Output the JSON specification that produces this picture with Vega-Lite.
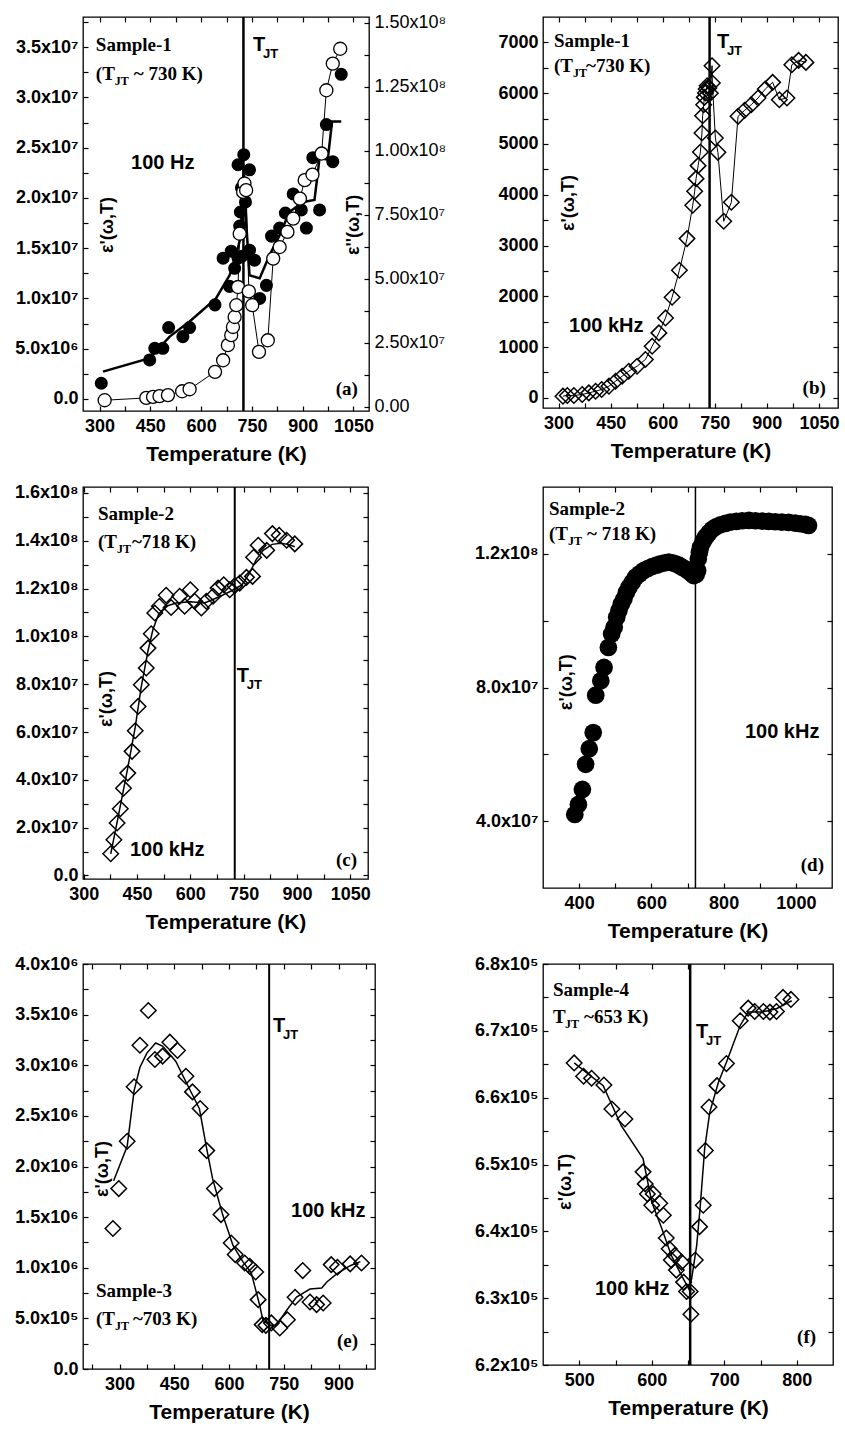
{
"$schema":"https://vega.github.io/schema/vega-lite/v6.json",
"background":"white",
"padding":{"left":13,"top":12,"right":0,"bottom":0},
"config":{
 "view":{"stroke":"black","strokeWidth":1.3},
 "axis":{"domain":false,"grid":false,"labelFont":"Liberation Sans","labelFontWeight":"bold","labelFontSize":18,"labelColor":"black","tickColor":"black","tickSize":-5,"tickWidth":1.2,"labelPadding":10,"labelFlush":false,"labelOverlap":false,"titleFont":"Liberation Sans","titleFontWeight":"bold","titleFontSize":21,"titleColor":"black","titlePadding":8},
 "axisX":{"labelPadding":11}
},
"columns":2,
"spacing":{"row":76,"column":168},
"bounds":"flush",
"align":"each",
"datasets":{
 "a_fill":[{"T":305,"v":1560000},{"T":448,"v":3880000},{"T":463,"v":5040000},{"T":487,"v":5040000},{"T":504,"v":7100000},{"T":546,"v":6200000},{"T":566,"v":7100000},{"T":641,"v":9360000},{"T":665,"v":14000000},{"T":684,"v":11200000},{"T":689,"v":14700000},{"T":699,"v":13000000},{"T":709,"v":14000000},{"T":714,"v":17200000},{"T":709,"v":23300000},{"T":726,"v":24300000},{"T":716,"v":18600000},{"T":719,"v":21000000},{"T":721,"v":14200000},{"T":731,"v":19600000},{"T":743,"v":22800000},{"T":743,"v":14800000},{"T":758,"v":13800000},{"T":773,"v":10000000},{"T":793,"v":11300000},{"T":808,"v":16200000},{"T":832,"v":17000000},{"T":849,"v":18500000},{"T":872,"v":20400000},{"T":896,"v":18800000},{"T":911,"v":17000000},{"T":930,"v":24000000},{"T":950,"v":18800000},{"T":970,"v":27300000},{"T":989,"v":23600000},{"T":1014,"v":32300000}],
 "a_line":[{"T":310,"v":2720000},{"T":448,"v":4050000},{"T":507,"v":6200000},{"T":566,"v":7700000},{"T":644,"v":10000000},{"T":684,"v":12300000},{"T":703,"v":14200000},{"T":718,"v":16300000},{"T":726,"v":23000000},{"T":733,"v":17700000},{"T":743,"v":12300000},{"T":773,"v":12000000},{"T":802,"v":14300000},{"T":832,"v":16300000},{"T":861,"v":18600000},{"T":901,"v":19600000},{"T":935,"v":19800000},{"T":950,"v":24000000},{"T":974,"v":23800000},{"T":987,"v":27600000},{"T":1014,"v":27600000}],
 "a_open":[{"T":315,"v":2600000},{"T":438,"v":3500000},{"T":458,"v":3900000},{"T":477,"v":4200000},{"T":502,"v":4600000},{"T":544,"v":6100000},{"T":566,"v":6900000},{"T":641,"v":13700000},{"T":665,"v":18200000},{"T":679,"v":24100000},{"T":689,"v":28000000},{"T":694,"v":31200000},{"T":699,"v":35100000},{"T":704,"v":39700000},{"T":709,"v":46800000},{"T":714,"v":67600000},{"T":724,"v":83900000},{"T":728,"v":87200000},{"T":733,"v":84600000},{"T":741,"v":45100000},{"T":751,"v":39700000},{"T":771,"v":21500000},{"T":797,"v":26000000},{"T":813,"v":57900000},{"T":832,"v":62400000},{"T":855,"v":68300000},{"T":872,"v":73500000},{"T":892,"v":81300000},{"T":906,"v":88500000},{"T":929,"v":90700000},{"T":956,"v":98900000},{"T":970,"v":123600000},{"T":989,"v":134000000},{"T":1011,"v":139800000}],
 "b_pts":[{"T":312.5,"v":33},{"T":325,"v":46},{"T":344,"v":46},{"T":368,"v":66},{"T":387,"v":98},{"T":406.5,"v":131},{"T":424,"v":164},{"T":445,"v":230},{"T":464,"v":328},{"T":483,"v":426},{"T":502,"v":525},{"T":526,"v":623},{"T":550,"v":754},{"T":569.5,"v":1017},{"T":589,"v":1279},{"T":608,"v":1574},{"T":627,"v":1981},{"T":648,"v":2513},{"T":670,"v":3136},{"T":686.5,"v":3792},{"T":692,"v":4067},{"T":696,"v":4317},{"T":702,"v":4573},{"T":708.5,"v":4842},{"T":713,"v":5215},{"T":715,"v":5557},{"T":718,"v":5773},{"T":720,"v":5917},{"T":723,"v":6003},{"T":725,"v":6082},{"T":728,"v":6147},{"T":733,"v":6100},{"T":737,"v":6000},{"T":742,"v":6541},{"T":743,"v":6200},{"T":751.7,"v":5117},{"T":759,"v":4835},{"T":775.7,"v":3477},{"T":797.7,"v":3851},{"T":817,"v":5544},{"T":836,"v":5662},{"T":855,"v":5773},{"T":874.5,"v":5904},{"T":895.6,"v":6082},{"T":916.7,"v":6213},{"T":935.9,"v":5871},{"T":958,"v":5904},{"T":972,"v":6560},{"T":991.5,"v":6646},{"T":1012.6,"v":6606}],
 "c_pts":[{"T":376,"v":9070000},{"T":385,"v":14900000},{"T":394,"v":21900000},{"T":403,"v":27900000},{"T":412,"v":36500000},{"T":424,"v":42800000},{"T":436,"v":51900000},{"T":445,"v":60500000},{"T":453,"v":70700000},{"T":462,"v":79800000},{"T":476,"v":86800000},{"T":481,"v":95100000},{"T":490,"v":101100000},{"T":500,"v":109800000},{"T":513,"v":112600000},{"T":532,"v":117200000},{"T":546,"v":112100000},{"T":570,"v":116800000},{"T":584,"v":112600000},{"T":600,"v":119500000},{"T":612,"v":114700000},{"T":631,"v":111900000},{"T":645,"v":114700000},{"T":664,"v":116800000},{"T":678,"v":120200000},{"T":694,"v":121600000},{"T":711,"v":119500000},{"T":725,"v":121200000},{"T":739,"v":122300000},{"T":758,"v":124700000},{"T":775,"v":125100000},{"T":778,"v":133100000},{"T":791,"v":138100000},{"T":815,"v":136000000},{"T":831,"v":143000000},{"T":850,"v":142300000},{"T":871,"v":140200000},{"T":894,"v":138700000}],
 "c_line":[{"T":376,"v":9000000},{"T":395,"v":23000000},{"T":424,"v":45000000},{"T":445,"v":62000000},{"T":462,"v":79000000},{"T":481,"v":94000000},{"T":495,"v":103000000},{"T":510,"v":109000000},{"T":530,"v":112500000},{"T":560,"v":114000000},{"T":600,"v":114500000},{"T":640,"v":114000000},{"T":680,"v":116500000},{"T":715,"v":119000000},{"T":745,"v":121500000},{"T":765,"v":126000000},{"T":785,"v":132000000},{"T":805,"v":136000000},{"T":830,"v":138500000},{"T":855,"v":139000000},{"T":875,"v":138500000},{"T":894,"v":137500000}],
 "d_pts":[{"T":388,"v":42000000},{"T":398,"v":45000000},{"T":409,"v":49500000},{"T":418,"v":57000000},{"T":428,"v":61700000},{"T":439,"v":66500000},{"T":446,"v":77700000},{"T":460,"v":82000000},{"T":469,"v":86000000},{"T":481,"v":92000000},{"T":490,"v":96000000},{"T":497,"v":98000000},{"T":504,"v":101000000},{"T":510,"v":103000000},{"T":517,"v":105000000},{"T":524,"v":106500000},{"T":531,"v":108500000},{"T":538,"v":110000000},{"T":547,"v":111500000},{"T":556,"v":113000000},{"T":567,"v":114000000},{"T":579,"v":115000000},{"T":590,"v":115600000},{"T":602,"v":116200000},{"T":614,"v":116600000},{"T":625,"v":117000000},{"T":637,"v":117300000},{"T":648,"v":117500000},{"T":658,"v":117300000},{"T":667,"v":117000000},{"T":676,"v":116600000},{"T":685,"v":116000000},{"T":695,"v":115400000},{"T":704,"v":114700000},{"T":711,"v":114100000},{"T":717,"v":113500000},{"T":724,"v":113800000},{"T":728,"v":115000000},{"T":730,"v":118500000},{"T":733,"v":120500000},{"T":736,"v":122000000},{"T":743,"v":123700000},{"T":750,"v":125000000},{"T":759,"v":126200000},{"T":768,"v":127300000},{"T":779,"v":128100000},{"T":791,"v":128700000},{"T":805,"v":129100000},{"T":819,"v":129500000},{"T":835,"v":129700000},{"T":851,"v":129900000},{"T":870,"v":130000000},{"T":888,"v":129900000},{"T":907,"v":129800000},{"T":925,"v":129700000},{"T":943,"v":129600000},{"T":961,"v":129500000},{"T":980,"v":129400000},{"T":998,"v":129200000},{"T":1012,"v":129000000},{"T":1026,"v":128800000},{"T":1035,"v":128500000}],
 "e_pts":[{"T":282,"v":1387000},{"T":298,"v":1782000},{"T":321,"v":2250000},{"T":340,"v":2787000},{"T":356,"v":3198000},{"T":379,"v":3541000},{"T":397,"v":3057000},{"T":418,"v":3090000},{"T":438,"v":3228000},{"T":459,"v":3146000},{"T":482,"v":2892000},{"T":500,"v":2737000},{"T":521,"v":2572000},{"T":539,"v":2157000},{"T":560,"v":1782000},{"T":578,"v":1525000},{"T":606,"v":1245000},{"T":617,"v":1130000},{"T":643,"v":1047000},{"T":657,"v":1014000},{"T":673,"v":958000},{"T":680,"v":685000},{"T":691,"v":438000},{"T":701,"v":431000},{"T":716,"v":455000},{"T":739,"v":405000},{"T":760,"v":487000},{"T":781,"v":708000},{"T":802,"v":972000},{"T":822,"v":662000},{"T":840,"v":636000},{"T":858,"v":652000},{"T":880,"v":1031000},{"T":897,"v":1005000},{"T":932,"v":1038000},{"T":963,"v":1047000}],
 "e_line":[{"T":284,"v":1860000},{"T":321,"v":2200000},{"T":340,"v":2750000},{"T":356,"v":2980000},{"T":375,"v":3120000},{"T":399,"v":3220000},{"T":418,"v":3190000},{"T":454,"v":3040000},{"T":487,"v":2800000},{"T":519,"v":2570000},{"T":537,"v":2210000},{"T":555,"v":1880000},{"T":583,"v":1520000},{"T":611,"v":1220000},{"T":638,"v":1060000},{"T":661,"v":950000},{"T":684,"v":630000},{"T":693,"v":480000},{"T":712,"v":430000},{"T":730,"v":430000},{"T":758,"v":580000},{"T":785,"v":710000},{"T":822,"v":790000},{"T":854,"v":800000},{"T":868,"v":860000},{"T":895,"v":940000},{"T":932,"v":1020000},{"T":960,"v":1060000}],
 "f_pts":[{"T":493,"v":665200},{"T":506,"v":663200},{"T":517,"v":662900},{"T":534,"v":661900},{"T":545,"v":658300},{"T":563,"v":656800},{"T":588,"v":648900},{"T":591,"v":647100},{"T":594,"v":645600},{"T":600,"v":643900},{"T":602,"v":645600},{"T":611,"v":644200},{"T":616,"v":642400},{"T":620,"v":639000},{"T":624,"v":637400},{"T":627,"v":635700},{"T":632,"v":636400},{"T":634,"v":634200},{"T":641,"v":635400},{"T":644,"v":632400},{"T":648,"v":631000},{"T":653,"v":631000},{"T":654,"v":627600},{"T":660,"v":635700},{"T":666,"v":640700},{"T":671,"v":643900},{"T":674,"v":652100},{"T":679,"v":658600},{"T":690,"v":661800},{"T":703,"v":665100},{"T":722,"v":671500},{"T":733,"v":673400},{"T":742,"v":672900},{"T":754,"v":672900},{"T":763,"v":672800},{"T":772,"v":672900},{"T":781,"v":675000},{"T":792,"v":674700}],
 "f_line":[{"T":493,"v":665200},{"T":533,"v":661800},{"T":558,"v":655800},{"T":588,"v":650900},{"T":600,"v":644400},{"T":614,"v":640400},{"T":627,"v":636400},{"T":641,"v":633400},{"T":651,"v":631400},{"T":655,"v":632900},{"T":662,"v":637900},{"T":667,"v":643900},{"T":673,"v":652400},{"T":680,"v":657800},{"T":692,"v":662300},{"T":703,"v":665300},{"T":722,"v":670800},{"T":733,"v":672800},{"T":752,"v":672800},{"T":772,"v":673300},{"T":793,"v":674500}]
},
"concat":[
{
 "width":286,"height":394,
 "resolve":{"scale":{"y":"independent"}},
 "layer":[
   {"data":{"values":[{"T":725}]},"mark":{"type":"rule","strokeWidth":2.5,"color":"black"},
    "encoding":{"x":{"field":"T","type":"quantitative","scale":{"domain":[251,1096],"nice":false,"zero":false},"axis":{"orient":"bottom","title":"Temperature (K)","values":[300,375,450,525,600,675,750,825,900,975,1050],"labelExpr":"datum.value % 150 == 0 ? format(datum.value,'d') : ''"}}}},
   {"data":{"name":"a_line"},"mark":{"type":"line","strokeWidth":2.5,"color":"black"},
    "encoding":{"x":{"field":"T","type":"quantitative","scale":{"domain":[251,1096],"nice":false,"zero":false},"axis":{"orient":"top","labels":false,"title":null,"values":[300,375,450,525,600,675,750,825,900,975,1050]}},
     "y":{"field":"v","type":"quantitative","scale":{"domain":[-1200000,38000000],"nice":false,"zero":false},"axis":{"orient":"left","title":null,"values":[0,2500000,5000000,7500000,10000000,12500000,15000000,17500000,20000000,22500000,25000000,27500000,30000000,32500000,35000000,37500000],"labelExpr":"datum.value % 5000000 != 0 ? '' : datum.value == 0 ? '0.0' : datum.value < 10000000 ? format(datum.value/1000000,'.1f') + 'x10⁶' : format(datum.value/10000000,'.1f') + 'x10⁷'"}}}},
   {"data":{"name":"a_fill"},"mark":{"type":"point","shape":"circle","filled":true,"color":"black","opacity":1,"size":170},
    "encoding":{"x":{"field":"T","type":"quantitative","scale":{"domain":[251,1096],"nice":false,"zero":false},"axis":null},
     "y":{"field":"v","type":"quantitative","scale":{"domain":[-1200000,38000000],"nice":false,"zero":false},"axis":null}}},
   {"data":{"name":"a_open"},"mark":{"type":"line","strokeWidth":1,"color":"black"},
    "encoding":{"x":{"field":"T","type":"quantitative","scale":{"domain":[251,1096],"nice":false,"zero":false},"axis":null},
     "y":{"field":"v","type":"quantitative","scale":{"domain":[-1600000,152200000],"nice":false,"zero":false},"axis":{"orient":"right","title":null,"labelFontWeight":"normal","values":[0,12500000,25000000,37500000,50000000,62500000,75000000,87500000,100000000,112500000,125000000,137500000,150000000],"labelExpr":"datum.value % 25000000 != 0 ? '' : datum.value == 0 ? '0.00' : datum.value < 100000000 ? format(datum.value/10000000,'.2f') + 'x10⁷' : format(datum.value/100000000,'.2f') + 'x10⁸'"}}}},
   {"data":{"name":"a_open"},"mark":{"type":"point","shape":"circle","filled":true,"fill":"white","stroke":"black","strokeWidth":1.3,"opacity":1,"size":170},
    "encoding":{"x":{"field":"T","type":"quantitative","scale":{"domain":[251,1096],"nice":false,"zero":false},"axis":null},
     "y":{"field":"v","type":"quantitative","scale":{"domain":[-1600000,152200000],"nice":false,"zero":false},"axis":null}}},
   {"data":{"values":[{"T":289,"v":35200000,"s":"Sample-1"},{"T":289,"v":32330000,"s":"(T"}]},"mark":{"type":"text","font":"Liberation Serif","fontWeight":"bold","fontSize":19,"align":"left","baseline":"middle","color":"black"},
    "encoding":{"x":{"field":"T","type":"quantitative","scale":{"domain":[251,1096],"nice":false,"zero":false},"axis":null},"y":{"field":"v","type":"quantitative","scale":{"domain":[-1200000,38000000],"nice":false,"zero":false},"axis":null},"text":{"field":"s"}}},
   {"data":{"values":[{"T":289,"v":32330000,"s":"JT"}]},"mark":{"type":"text","font":"Liberation Serif","fontWeight":"bold","fontSize":12,"align":"left","baseline":"middle","color":"black","dx":19,"dy":7},
    "encoding":{"x":{"field":"T","type":"quantitative","scale":{"domain":[251,1096],"nice":false,"zero":false},"axis":null},"y":{"field":"v","type":"quantitative","scale":{"domain":[-1200000,38000000],"nice":false,"zero":false},"axis":null},"text":{"field":"s"}}},
   {"data":{"values":[{"T":289,"v":32330000,"s":"~ 730 K)"}]},"mark":{"type":"text","font":"Liberation Serif","fontWeight":"bold","fontSize":19,"align":"left","baseline":"middle","color":"black","dx":38},
    "encoding":{"x":{"field":"T","type":"quantitative","scale":{"domain":[251,1096],"nice":false,"zero":false},"axis":null},"y":{"field":"v","type":"quantitative","scale":{"domain":[-1200000,38000000],"nice":false,"zero":false},"axis":null},"text":{"field":"s"}}},
   {"data":{"values":[{"T":753,"v":35200000,"s":"T"},{"T":393,"v":23470000,"s":"100 Hz"}]},"mark":{"type":"text","font":"Liberation Sans","fontWeight":"bold","fontSize":20,"align":"left","baseline":"middle","color":"black"},
    "encoding":{"x":{"field":"T","type":"quantitative","scale":{"domain":[251,1096],"nice":false,"zero":false},"axis":null},"y":{"field":"v","type":"quantitative","scale":{"domain":[-1200000,38000000],"nice":false,"zero":false},"axis":null},"text":{"field":"s"}}},
   {"data":{"values":[{"T":753,"v":35200000,"s":"JT"}]},"mark":{"type":"text","font":"Liberation Sans","fontWeight":"bold","fontSize":13,"align":"left","baseline":"middle","color":"black","dx":10,"dy":9},
    "encoding":{"x":{"field":"T","type":"quantitative","scale":{"domain":[251,1096],"nice":false,"zero":false},"axis":null},"y":{"field":"v","type":"quantitative","scale":{"domain":[-1200000,38000000],"nice":false,"zero":false},"axis":null},"text":{"field":"s"}}},
   {"data":{"values":[{"T":325,"v":17310000,"s":"ε'(ω,T)"},{"T":1052,"v":17310000,"s":"ε''(ω,T)"}]},"mark":{"type":"text","font":"Liberation Sans","fontWeight":"bold","fontSize":18,"angle":270,"align":"center","baseline":"middle","color":"black"},
    "encoding":{"x":{"field":"T","type":"quantitative","scale":{"domain":[251,1096],"nice":false,"zero":false},"axis":null},"y":{"field":"v","type":"quantitative","scale":{"domain":[-1200000,38000000],"nice":false,"zero":false},"axis":null},"text":{"field":"s"}}},
   {"data":{"values":[{"T":1063,"v":990000,"s":"(a)"}]},"mark":{"type":"text","font":"Liberation Serif","fontWeight":"bold","fontSize":19,"align":"right","baseline":"middle","color":"black"},
    "encoding":{"x":{"field":"T","type":"quantitative","scale":{"domain":[251,1096],"nice":false,"zero":false},"axis":null},"y":{"field":"v","type":"quantitative","scale":{"domain":[-1200000,38000000],"nice":false,"zero":false},"axis":null},"text":{"field":"s"}}}
 ]
},
{
 "width":295,"height":391,
 "layer":[
  {"data":{"values":[{"T":735}]},"mark":{"type":"rule","strokeWidth":2.5,"color":"black"},
   "encoding":{"x":{"field":"T","type":"quantitative","scale":{"domain":[255,1105],"nice":false,"zero":false},"axis":{"orient":"bottom","title":"Temperature (K)","values":[300,375,450,525,600,675,750,825,900,975,1050],"labelExpr":"datum.value % 150 == 0 ? format(datum.value,'d') : ''"}}}},
  {"data":{"name":"b_pts"},"mark":{"type":"line","strokeWidth":1,"color":"black"},
   "encoding":{"x":{"field":"T","type":"quantitative","scale":{"domain":[255,1105],"nice":false,"zero":false},"axis":{"orient":"top","labels":false,"title":null,"values":[300,375,450,525,600,675,750,825,900,975,1050]}},
    "y":{"field":"v","type":"quantitative","scale":{"domain":[-200,7500],"nice":false,"zero":false},"axis":{"orient":"right","labels":false,"title":null,"values":[0,500,1000,1500,2000,2500,3000,3500,4000,4500,5000,5500,6000,6500,7000]}}}},
  {"data":{"name":"b_pts"},"mark":{"type":"point","shape":"diamond","filled":false,"color":"black","strokeWidth":1.5,"opacity":1,"size":240},
   "encoding":{"x":{"field":"T","type":"quantitative","scale":{"domain":[255,1105],"nice":false,"zero":false},"axis":null},
    "y":{"field":"v","type":"quantitative","scale":{"domain":[-200,7500],"nice":false,"zero":false},"axis":{"orient":"left","title":null,"values":[0,500,1000,1500,2000,2500,3000,3500,4000,4500,5000,5500,6000,6500,7000],"labelExpr":"datum.value % 1000 != 0 ? '' : format(datum.value,'d')"}}}},
  {"data":{"values":[{"T":286.7,"v":7027,"s":"Sample-1"},{"T":286.7,"v":6535,"s":"(T"}]},"mark":{"type":"text","font":"Liberation Serif","fontWeight":"bold","fontSize":19,"align":"left","baseline":"middle","color":"black"},
   "encoding":{"x":{"field":"T","type":"quantitative","scale":{"domain":[255,1105],"nice":false,"zero":false},"axis":null},"y":{"field":"v","type":"quantitative","scale":{"domain":[-200,7500],"nice":false,"zero":false},"axis":null},"text":{"field":"s"}}},
  {"data":{"values":[{"T":286.7,"v":6535,"s":"JT"}]},"mark":{"type":"text","font":"Liberation Serif","fontWeight":"bold","fontSize":12,"align":"left","baseline":"middle","color":"black","dx":19,"dy":7},
   "encoding":{"x":{"field":"T","type":"quantitative","scale":{"domain":[255,1105],"nice":false,"zero":false},"axis":null},"y":{"field":"v","type":"quantitative","scale":{"domain":[-200,7500],"nice":false,"zero":false},"axis":null},"text":{"field":"s"}}},
  {"data":{"values":[{"T":286.7,"v":6535,"s":"~730 K)"}]},"mark":{"type":"text","font":"Liberation Serif","fontWeight":"bold","fontSize":19,"align":"left","baseline":"middle","color":"black","dx":32},
   "encoding":{"x":{"field":"T","type":"quantitative","scale":{"domain":[255,1105],"nice":false,"zero":false},"axis":null},"y":{"field":"v","type":"quantitative","scale":{"domain":[-200,7500],"nice":false,"zero":false},"axis":null},"text":{"field":"s"}}},
  {"data":{"values":[{"T":756,"v":7008,"s":"T"},{"T":330,"v":1415,"s":"100 kHz"}]},"mark":{"type":"text","font":"Liberation Sans","fontWeight":"bold","fontSize":20,"align":"left","baseline":"middle","color":"black"},
   "encoding":{"x":{"field":"T","type":"quantitative","scale":{"domain":[255,1105],"nice":false,"zero":false},"axis":null},"y":{"field":"v","type":"quantitative","scale":{"domain":[-200,7500],"nice":false,"zero":false},"axis":null},"text":{"field":"s"}}},
  {"data":{"values":[{"T":756,"v":7008,"s":"JT"}]},"mark":{"type":"text","font":"Liberation Sans","fontWeight":"bold","fontSize":13,"align":"left","baseline":"middle","color":"black","dx":10,"dy":9},
   "encoding":{"x":{"field":"T","type":"quantitative","scale":{"domain":[255,1105],"nice":false,"zero":false},"axis":null},"y":{"field":"v","type":"quantitative","scale":{"domain":[-200,7500],"nice":false,"zero":false},"axis":null},"text":{"field":"s"}}},
  {"data":{"values":[{"T":330,"v":3837,"s":"ε'(ω,T)"}]},"mark":{"type":"text","font":"Liberation Sans","fontWeight":"bold","fontSize":18,"angle":270,"align":"center","baseline":"middle","color":"black"},
   "encoding":{"x":{"field":"T","type":"quantitative","scale":{"domain":[255,1105],"nice":false,"zero":false},"axis":null},"y":{"field":"v","type":"quantitative","scale":{"domain":[-200,7500],"nice":false,"zero":false},"axis":null},"text":{"field":"s"}}},
  {"data":{"values":[{"T":1070,"v":194,"s":"(b)"}]},"mark":{"type":"text","font":"Liberation Serif","fontWeight":"bold","fontSize":19,"align":"right","baseline":"middle","color":"black"},
   "encoding":{"x":{"field":"T","type":"quantitative","scale":{"domain":[255,1105],"nice":false,"zero":false},"axis":null},"y":{"field":"v","type":"quantitative","scale":{"domain":[-200,7500],"nice":false,"zero":false},"axis":null},"text":{"field":"s"}}}
 ]
},
{
 "width":285,"height":392,
 "layer":[
  {"data":{"values":[{"T":725}]},"mark":{"type":"rule","strokeWidth":2,"color":"black"},
   "encoding":{"x":{"field":"T","type":"quantitative","scale":{"domain":[298,1100],"nice":false,"zero":false},"axis":{"orient":"bottom","title":"Temperature (K)","values":[300,375,450,525,600,675,750,825,900,975,1050],"labelExpr":"datum.value % 150 == 0 ? format(datum.value,'d') : ''"}}}},
  {"data":{"name":"c_line"},"mark":{"type":"line","strokeWidth":1.5,"color":"black"},
   "encoding":{"x":{"field":"T","type":"quantitative","scale":{"domain":[298,1100],"nice":false,"zero":false},"axis":{"orient":"top","labels":false,"title":null,"values":[300,375,450,525,600,675,750,825,900,975,1050]}},
    "y":{"field":"v","type":"quantitative","scale":{"domain":[-1500000,162500000],"nice":false,"zero":false},"axis":{"orient":"right","labels":false,"title":null,"values":[0,10000000,20000000,30000000,40000000,50000000,60000000,70000000,80000000,90000000,100000000,110000000,120000000,130000000,140000000,150000000,160000000]}}}},
  {"data":{"name":"c_pts"},"mark":{"type":"point","shape":"diamond","filled":false,"color":"black","strokeWidth":1.5,"opacity":1,"size":240},
   "encoding":{"x":{"field":"T","type":"quantitative","scale":{"domain":[298,1100],"nice":false,"zero":false},"axis":null},
    "y":{"field":"v","type":"quantitative","scale":{"domain":[-1500000,162500000],"nice":false,"zero":false},"axis":{"orient":"left","title":null,"values":[0,10000000,20000000,30000000,40000000,50000000,60000000,70000000,80000000,90000000,100000000,110000000,120000000,130000000,140000000,150000000,160000000],"labelExpr":"datum.value % 20000000 != 0 ? '' : datum.value == 0 ? '0.0' : datum.value < 100000000 ? format(datum.value/10000000,'.1f') + 'x10⁷' : format(datum.value/100000000,'.1f') + 'x10⁸'"}}}},
  {"data":{"values":[{"T":340,"v":151200000,"s":"Sample-2"},{"T":340,"v":139500000,"s":"(T"}]},"mark":{"type":"text","font":"Liberation Serif","fontWeight":"bold","fontSize":19,"align":"left","baseline":"middle","color":"black"},
   "encoding":{"x":{"field":"T","type":"quantitative","scale":{"domain":[298,1100],"nice":false,"zero":false},"axis":null},"y":{"field":"v","type":"quantitative","scale":{"domain":[-1500000,162500000],"nice":false,"zero":false},"axis":null},"text":{"field":"s"}}},
  {"data":{"values":[{"T":340,"v":139500000,"s":"JT"}]},"mark":{"type":"text","font":"Liberation Serif","fontWeight":"bold","fontSize":12,"align":"left","baseline":"middle","color":"black","dx":19,"dy":7},
   "encoding":{"x":{"field":"T","type":"quantitative","scale":{"domain":[298,1100],"nice":false,"zero":false},"axis":null},"y":{"field":"v","type":"quantitative","scale":{"domain":[-1500000,162500000],"nice":false,"zero":false},"axis":null},"text":{"field":"s"}}},
  {"data":{"values":[{"T":340,"v":139500000,"s":"~718 K)"}]},"mark":{"type":"text","font":"Liberation Serif","fontWeight":"bold","fontSize":19,"align":"left","baseline":"middle","color":"black","dx":34},
   "encoding":{"x":{"field":"T","type":"quantitative","scale":{"domain":[298,1100],"nice":false,"zero":false},"axis":null},"y":{"field":"v","type":"quantitative","scale":{"domain":[-1500000,162500000],"nice":false,"zero":false},"axis":null},"text":{"field":"s"}}},
  {"data":{"values":[{"T":731,"v":83400000,"s":"T"},{"T":430,"v":10630000,"s":"100 kHz"}]},"mark":{"type":"text","font":"Liberation Sans","fontWeight":"bold","fontSize":20,"align":"left","baseline":"middle","color":"black"},
   "encoding":{"x":{"field":"T","type":"quantitative","scale":{"domain":[298,1100],"nice":false,"zero":false},"axis":null},"y":{"field":"v","type":"quantitative","scale":{"domain":[-1500000,162500000],"nice":false,"zero":false},"axis":null},"text":{"field":"s"}}},
  {"data":{"values":[{"T":731,"v":83400000,"s":"JT"}]},"mark":{"type":"text","font":"Liberation Sans","fontWeight":"bold","fontSize":13,"align":"left","baseline":"middle","color":"black","dx":10,"dy":9},
   "encoding":{"x":{"field":"T","type":"quantitative","scale":{"domain":[298,1100],"nice":false,"zero":false},"axis":null},"y":{"field":"v","type":"quantitative","scale":{"domain":[-1500000,162500000],"nice":false,"zero":false},"axis":null},"text":{"field":"s"}}},
  {"data":{"values":[{"T":365.5,"v":73800000,"s":"ε'(ω,T)"}]},"mark":{"type":"text","font":"Liberation Sans","fontWeight":"bold","fontSize":18,"angle":270,"align":"center","baseline":"middle","color":"black"},
   "encoding":{"x":{"field":"T","type":"quantitative","scale":{"domain":[298,1100],"nice":false,"zero":false},"axis":null},"y":{"field":"v","type":"quantitative","scale":{"domain":[-1500000,162500000],"nice":false,"zero":false},"axis":null},"text":{"field":"s"}}},
  {"data":{"values":[{"T":1069,"v":6450000,"s":"(c)"}]},"mark":{"type":"text","font":"Liberation Serif","fontWeight":"bold","fontSize":19,"align":"right","baseline":"middle","color":"black"},
   "encoding":{"x":{"field":"T","type":"quantitative","scale":{"domain":[298,1100],"nice":false,"zero":false},"axis":null},"y":{"field":"v","type":"quantitative","scale":{"domain":[-1500000,162500000],"nice":false,"zero":false},"axis":null},"text":{"field":"s"}}}
 ]
},
{
 "width":289,"height":401,
 "layer":[
  {"data":{"values":[{"T":722}]},"mark":{"type":"rule","strokeWidth":1.5,"color":"black"},
   "encoding":{"x":{"field":"T","type":"quantitative","scale":{"domain":[300,1100],"nice":false,"zero":false},"axis":{"orient":"bottom","title":"Temperature (K)","values":[400,500,600,700,800,900,1000],"labelExpr":"datum.value % 200 == 0 ? format(datum.value,'d') : ''"}}}},
  {"data":{"name":"d_pts"},"mark":{"type":"point","shape":"circle","filled":true,"color":"black","opacity":1,"size":314},
   "encoding":{"x":{"field":"T","type":"quantitative","scale":{"domain":[300,1100],"nice":false,"zero":false},"axis":{"orient":"top","labels":false,"title":null,"values":[400,500,600,700,800,900,1000]}},
    "y":{"field":"v","type":"quantitative","scale":{"domain":[20000000,140000000],"nice":false,"zero":false},"axis":{"orient":"left","title":null,"values":[40000000,60000000,80000000,100000000,120000000],"labelExpr":"datum.value % 40000000 != 0 ? '' : datum.value < 100000000 ? format(datum.value/10000000,'.1f') + 'x10⁷' : format(datum.value/100000000,'.1f') + 'x10⁸'"}}}},
  {"data":{"values":[{"T":316.6,"v":133400000,"s":"Sample-2"},{"T":316.6,"v":125900000,"s":"(T"}]},"mark":{"type":"text","font":"Liberation Serif","fontWeight":"bold","fontSize":19,"align":"left","baseline":"middle","color":"black"},
   "encoding":{"x":{"field":"T","type":"quantitative","scale":{"domain":[300,1100],"nice":false,"zero":false},"axis":null},"y":{"field":"v","type":"quantitative","scale":{"domain":[20000000,140000000],"nice":false,"zero":false},"axis":{"orient":"right","labels":false,"title":null,"values":[40000000,60000000,80000000,100000000,120000000]}},"text":{"field":"s"}}},
  {"data":{"values":[{"T":316.6,"v":125900000,"s":"JT"}]},"mark":{"type":"text","font":"Liberation Serif","fontWeight":"bold","fontSize":12,"align":"left","baseline":"middle","color":"black","dx":19,"dy":7},
   "encoding":{"x":{"field":"T","type":"quantitative","scale":{"domain":[300,1100],"nice":false,"zero":false},"axis":null},"y":{"field":"v","type":"quantitative","scale":{"domain":[20000000,140000000],"nice":false,"zero":false},"axis":null},"text":{"field":"s"}}},
  {"data":{"values":[{"T":316.6,"v":125900000,"s":"~ 718 K)"}]},"mark":{"type":"text","font":"Liberation Serif","fontWeight":"bold","fontSize":19,"align":"left","baseline":"middle","color":"black","dx":38},
   "encoding":{"x":{"field":"T","type":"quantitative","scale":{"domain":[300,1100],"nice":false,"zero":false},"axis":null},"y":{"field":"v","type":"quantitative","scale":{"domain":[20000000,140000000],"nice":false,"zero":false},"axis":null},"text":{"field":"s"}}},
  {"data":{"values":[{"T":859,"v":66700000,"s":"100 kHz"}]},"mark":{"type":"text","font":"Liberation Sans","fontWeight":"bold","fontSize":20,"align":"left","baseline":"middle","color":"black"},
   "encoding":{"x":{"field":"T","type":"quantitative","scale":{"domain":[300,1100],"nice":false,"zero":false},"axis":null},"y":{"field":"v","type":"quantitative","scale":{"domain":[20000000,140000000],"nice":false,"zero":false},"axis":null},"text":{"field":"s"}}},
  {"data":{"values":[{"T":366.4,"v":81600000,"s":"ε'(ω,T)"}]},"mark":{"type":"text","font":"Liberation Sans","fontWeight":"bold","fontSize":18,"angle":270,"align":"center","baseline":"middle","color":"black"},
   "encoding":{"x":{"field":"T","type":"quantitative","scale":{"domain":[300,1100],"nice":false,"zero":false},"axis":null},"y":{"field":"v","type":"quantitative","scale":{"domain":[20000000,140000000],"nice":false,"zero":false},"axis":null},"text":{"field":"s"}}},
  {"data":{"values":[{"T":1077.8,"v":26900000,"s":"(d)"}]},"mark":{"type":"text","font":"Liberation Serif","fontWeight":"bold","fontSize":19,"align":"right","baseline":"middle","color":"black"},
   "encoding":{"x":{"field":"T","type":"quantitative","scale":{"domain":[300,1100],"nice":false,"zero":false},"axis":null},"y":{"field":"v","type":"quantitative","scale":{"domain":[20000000,140000000],"nice":false,"zero":false},"axis":null},"text":{"field":"s"}}}
 ]
},
{
 "width":292,"height":405,
 "layer":[
  {"data":{"values":[{"T":710}]},"mark":{"type":"rule","strokeWidth":2,"color":"black"},
   "encoding":{"x":{"field":"T","type":"quantitative","scale":{"domain":[200,1000],"nice":false,"zero":false},"axis":{"orient":"bottom","title":"Temperature (K)","values":[225,300,375,450,525,600,675,750,825,900,975],"labelExpr":"(datum.value - 300) % 150 == 0 ? format(datum.value,'d') : ''"}}}},
  {"data":{"name":"e_line"},"mark":{"type":"line","strokeWidth":1.5,"color":"black"},
   "encoding":{"x":{"field":"T","type":"quantitative","scale":{"domain":[200,1000],"nice":false,"zero":false},"axis":{"orient":"top","labels":false,"title":null,"values":[225,300,375,450,525,600,675,750,825,900,975]}},
    "y":{"field":"v","type":"quantitative","scale":{"domain":[0,4000000],"nice":false,"zero":false},"axis":{"orient":"right","labels":false,"title":null,"values":[250000,500000,750000,1000000,1250000,1500000,1750000,2000000,2250000,2500000,2750000,3000000,3250000,3500000,3750000]}}}},
  {"data":{"name":"e_pts"},"mark":{"type":"point","shape":"diamond","filled":false,"color":"black","strokeWidth":1.5,"opacity":1,"size":240},
   "encoding":{"x":{"field":"T","type":"quantitative","scale":{"domain":[200,1000],"nice":false,"zero":false},"axis":null},
    "y":{"field":"v","type":"quantitative","scale":{"domain":[0,4000000],"nice":false,"zero":false},"axis":{"orient":"left","title":null,"values":[0,250000,500000,750000,1000000,1250000,1500000,1750000,2000000,2250000,2500000,2750000,3000000,3250000,3500000,3750000,4000000],"labelExpr":"datum.value % 500000 != 0 ? '' : datum.value == 0 ? '0.0' : datum.value < 1000000 ? format(datum.value/100000,'.1f') + 'x10⁵' : format(datum.value/1000000,'.1f') + 'x10⁶'"}}}},
  {"data":{"values":[{"T":235.6,"v":770000,"s":"Sample-3"},{"T":235.6,"v":494000,"s":"(T"}]},"mark":{"type":"text","font":"Liberation Serif","fontWeight":"bold","fontSize":19,"align":"left","baseline":"middle","color":"black"},
   "encoding":{"x":{"field":"T","type":"quantitative","scale":{"domain":[200,1000],"nice":false,"zero":false},"axis":null},"y":{"field":"v","type":"quantitative","scale":{"domain":[0,4000000],"nice":false,"zero":false},"axis":null},"text":{"field":"s"}}},
  {"data":{"values":[{"T":235.6,"v":494000,"s":"JT"}]},"mark":{"type":"text","font":"Liberation Serif","fontWeight":"bold","fontSize":12,"align":"left","baseline":"middle","color":"black","dx":19,"dy":7},
   "encoding":{"x":{"field":"T","type":"quantitative","scale":{"domain":[200,1000],"nice":false,"zero":false},"axis":null},"y":{"field":"v","type":"quantitative","scale":{"domain":[0,4000000],"nice":false,"zero":false},"axis":null},"text":{"field":"s"}}},
  {"data":{"values":[{"T":235.6,"v":494000,"s":"~703 K)"}]},"mark":{"type":"text","font":"Liberation Serif","fontWeight":"bold","fontSize":19,"align":"left","baseline":"middle","color":"black","dx":37},
   "encoding":{"x":{"field":"T","type":"quantitative","scale":{"domain":[200,1000],"nice":false,"zero":false},"axis":null},"y":{"field":"v","type":"quantitative","scale":{"domain":[0,4000000],"nice":false,"zero":false},"axis":null},"text":{"field":"s"}}},
  {"data":{"values":[{"T":720.5,"v":3388000,"s":"T"},{"T":770,"v":1560000,"s":"100 kHz"}]},"mark":{"type":"text","font":"Liberation Sans","fontWeight":"bold","fontSize":20,"align":"left","baseline":"middle","color":"black"},
   "encoding":{"x":{"field":"T","type":"quantitative","scale":{"domain":[200,1000],"nice":false,"zero":false},"axis":null},"y":{"field":"v","type":"quantitative","scale":{"domain":[0,4000000],"nice":false,"zero":false},"axis":null},"text":{"field":"s"}}},
  {"data":{"values":[{"T":720.5,"v":3388000,"s":"JT"}]},"mark":{"type":"text","font":"Liberation Sans","fontWeight":"bold","fontSize":13,"align":"left","baseline":"middle","color":"black","dx":10,"dy":9},
   "encoding":{"x":{"field":"T","type":"quantitative","scale":{"domain":[200,1000],"nice":false,"zero":false},"axis":null},"y":{"field":"v","type":"quantitative","scale":{"domain":[0,4000000],"nice":false,"zero":false},"axis":null},"text":{"field":"s"}}},
  {"data":{"values":[{"T":254.8,"v":1975000,"s":"ε'(ω,T)"}]},"mark":{"type":"text","font":"Liberation Sans","fontWeight":"bold","fontSize":18,"angle":270,"align":"center","baseline":"middle","color":"black"},
   "encoding":{"x":{"field":"T","type":"quantitative","scale":{"domain":[200,1000],"nice":false,"zero":false},"axis":null},"y":{"field":"v","type":"quantitative","scale":{"domain":[0,4000000],"nice":false,"zero":false},"axis":null},"text":{"field":"s"}}},
  {"data":{"values":[{"T":953.4,"v":277000,"s":"(e)"}]},"mark":{"type":"text","font":"Liberation Serif","fontWeight":"bold","fontSize":19,"align":"right","baseline":"middle","color":"black"},
   "encoding":{"x":{"field":"T","type":"quantitative","scale":{"domain":[200,1000],"nice":false,"zero":false},"axis":null},"y":{"field":"v","type":"quantitative","scale":{"domain":[0,4000000],"nice":false,"zero":false},"axis":null},"text":{"field":"s"}}}
 ]
},
{
 "width":290,"height":401,
 "layer":[
  {"data":{"values":[{"T":653}]},"mark":{"type":"rule","strokeWidth":2.5,"color":"black"},
   "encoding":{"x":{"field":"T","type":"quantitative","scale":{"domain":[450,850],"nice":false,"zero":false},"axis":{"orient":"bottom","title":"Temperature (K)","values":[500,550,600,650,700,750,800],"labelExpr":"datum.value % 100 == 0 ? format(datum.value,'d') : ''"}}}},
  {"data":{"name":"f_line"},"mark":{"type":"line","strokeWidth":1.5,"color":"black"},
   "encoding":{"x":{"field":"T","type":"quantitative","scale":{"domain":[450,850],"nice":false,"zero":false},"axis":{"orient":"top","labels":false,"title":null,"values":[500,550,600,650,700,750,800]}},
    "y":{"field":"v","type":"quantitative","scale":{"domain":[620000,680000],"nice":false,"zero":false},"axis":{"orient":"right","labels":false,"title":null,"values":[625000,630000,635000,640000,645000,650000,655000,660000,665000,670000,675000]}}}},
  {"data":{"name":"f_pts"},"mark":{"type":"point","shape":"diamond","filled":false,"color":"black","strokeWidth":1.5,"opacity":1,"size":240},
   "encoding":{"x":{"field":"T","type":"quantitative","scale":{"domain":[450,850],"nice":false,"zero":false},"axis":null},
    "y":{"field":"v","type":"quantitative","scale":{"domain":[620000,680000],"nice":false,"zero":false},"axis":{"orient":"left","title":null,"values":[620000,625000,630000,635000,640000,645000,650000,655000,660000,665000,670000,675000,680000],"labelExpr":"datum.value % 10000 != 0 ? '' : format(datum.value/100000,'.1f') + 'x10⁵'"}}}},
  {"data":{"values":[{"T":463.8,"v":676100,"s":"Sample-4"},{"T":463.8,"v":672100,"s":"T"}]},"mark":{"type":"text","font":"Liberation Serif","fontWeight":"bold","fontSize":19,"align":"left","baseline":"middle","color":"black"},
   "encoding":{"x":{"field":"T","type":"quantitative","scale":{"domain":[450,850],"nice":false,"zero":false},"axis":null},"y":{"field":"v","type":"quantitative","scale":{"domain":[620000,680000],"nice":false,"zero":false},"axis":null},"text":{"field":"s"}}},
  {"data":{"values":[{"T":463.8,"v":672100,"s":"JT"}]},"mark":{"type":"text","font":"Liberation Serif","fontWeight":"bold","fontSize":12,"align":"left","baseline":"middle","color":"black","dx":12,"dy":7},
   "encoding":{"x":{"field":"T","type":"quantitative","scale":{"domain":[450,850],"nice":false,"zero":false},"axis":null},"y":{"field":"v","type":"quantitative","scale":{"domain":[620000,680000],"nice":false,"zero":false},"axis":null},"text":{"field":"s"}}},
  {"data":{"values":[{"T":463.8,"v":672100,"s":"~653 K)"}]},"mark":{"type":"text","font":"Liberation Serif","fontWeight":"bold","fontSize":19,"align":"left","baseline":"middle","color":"black","dx":31},
   "encoding":{"x":{"field":"T","type":"quantitative","scale":{"domain":[450,850],"nice":false,"zero":false},"axis":null},"y":{"field":"v","type":"quantitative","scale":{"domain":[620000,680000],"nice":false,"zero":false},"axis":null},"text":{"field":"s"}}},
  {"data":{"values":[{"T":661,"v":669800,"s":"T"},{"T":521.7,"v":631400,"s":"100 kHz"}]},"mark":{"type":"text","font":"Liberation Sans","fontWeight":"bold","fontSize":20,"align":"left","baseline":"middle","color":"black"},
   "encoding":{"x":{"field":"T","type":"quantitative","scale":{"domain":[450,850],"nice":false,"zero":false},"axis":null},"y":{"field":"v","type":"quantitative","scale":{"domain":[620000,680000],"nice":false,"zero":false},"axis":null},"text":{"field":"s"}}},
  {"data":{"values":[{"T":661,"v":669800,"s":"JT"}]},"mark":{"type":"text","font":"Liberation Sans","fontWeight":"bold","fontSize":13,"align":"left","baseline":"middle","color":"black","dx":10,"dy":9},
   "encoding":{"x":{"field":"T","type":"quantitative","scale":{"domain":[450,850],"nice":false,"zero":false},"axis":null},"y":{"field":"v","type":"quantitative","scale":{"domain":[620000,680000],"nice":false,"zero":false},"axis":null},"text":{"field":"s"}}},
  {"data":{"values":[{"T":481.7,"v":647400,"s":"ε'(ω,T)"}]},"mark":{"type":"text","font":"Liberation Sans","fontWeight":"bold","fontSize":18,"angle":270,"align":"center","baseline":"middle","color":"black"},
   "encoding":{"x":{"field":"T","type":"quantitative","scale":{"domain":[450,850],"nice":false,"zero":false},"axis":null},"y":{"field":"v","type":"quantitative","scale":{"domain":[620000,680000],"nice":false,"zero":false},"axis":null},"text":{"field":"s"}}},
  {"data":{"values":[{"T":826.6,"v":624200,"s":"(f)"}]},"mark":{"type":"text","font":"Liberation Serif","fontWeight":"bold","fontSize":19,"align":"right","baseline":"middle","color":"black"},
   "encoding":{"x":{"field":"T","type":"quantitative","scale":{"domain":[450,850],"nice":false,"zero":false},"axis":null},"y":{"field":"v","type":"quantitative","scale":{"domain":[620000,680000],"nice":false,"zero":false},"axis":null},"text":{"field":"s"}}}
 ]
}
]
}
